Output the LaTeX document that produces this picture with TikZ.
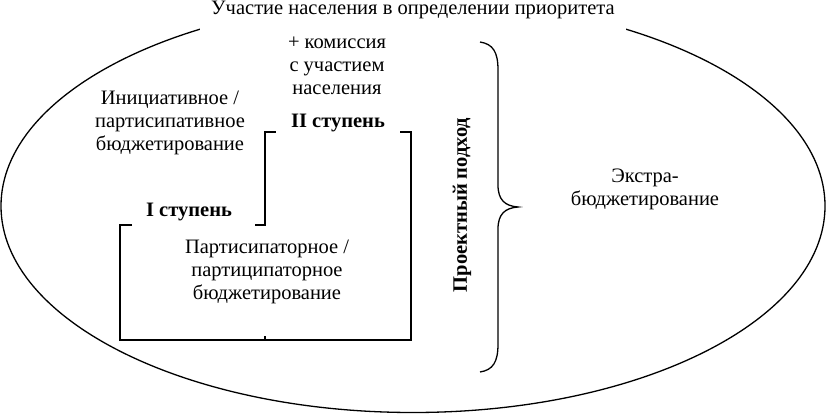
\documentclass[tikz,border=0pt]{standalone}
\usepackage{fontspec}
\setmainfont{Liberation Serif}
\begin{document}
\begin{tikzpicture}[x=1pt,y=-1pt,
  lbl/.style={font=\fontsize{20.5}{23}\selectfont, align=center, inner sep=0pt},
  steplbl/.style={font=\fontsize{20.5}{23}\selectfont\bfseries, inner sep=0pt},
  ln/.style={line width=1.3pt}]
\useasboundingbox (0,0) rectangle (826,414);
\draw[ln] (413,206) ellipse [x radius=412, y radius=206.5];
\node[lbl, fill=white, inner xsep=11pt, inner ysep=0pt, text height=15pt, text depth=16pt, anchor=base] (title) at (413,15) {Участие населения в определении приоритета};
% staircase
\draw[ln] (132,225) -- (120,225) -- (120,340) -- (411,340) -- (411,132) -- (400,132);
\draw[ln] (255,225) -- (265,225) -- (265,132) -- (276,132);
\draw[ln] (265,340) -- (265,336);
\node[steplbl] (s1) at (189,212) {I ступень};
\node[steplbl] (s2) at (338,123) {II ступень};
\node[lbl] (part) at (267,272) {Партисипаторное /\\партиципаторное\\бюджетирование};
\node[lbl] (init) at (170,123) {Инициативное /\\партисипативное\\бюджетирование};
\node[lbl] (kom) at (337,66) {+ комиссия\\с участием\\населения};
\node[lbl, font=\fontsize{20.5}{23}\selectfont\bfseries, rotate=90] (proj) at (462,205) {Проектный подход};
\node[lbl] (extra) at (645,189) {Экстра-\\бюджетирование};
% brace
\draw[ln] (480,42) .. controls (493,44) and (498,52) .. (498,70) -- (498,185)
  .. controls (498,200) and (505,206) .. (518,207)
  .. controls (505,208) and (498,214) .. (498,229) -- (498,344)
  .. controls (498,362) and (493,370) .. (480,372);
\end{tikzpicture}
\end{document}
